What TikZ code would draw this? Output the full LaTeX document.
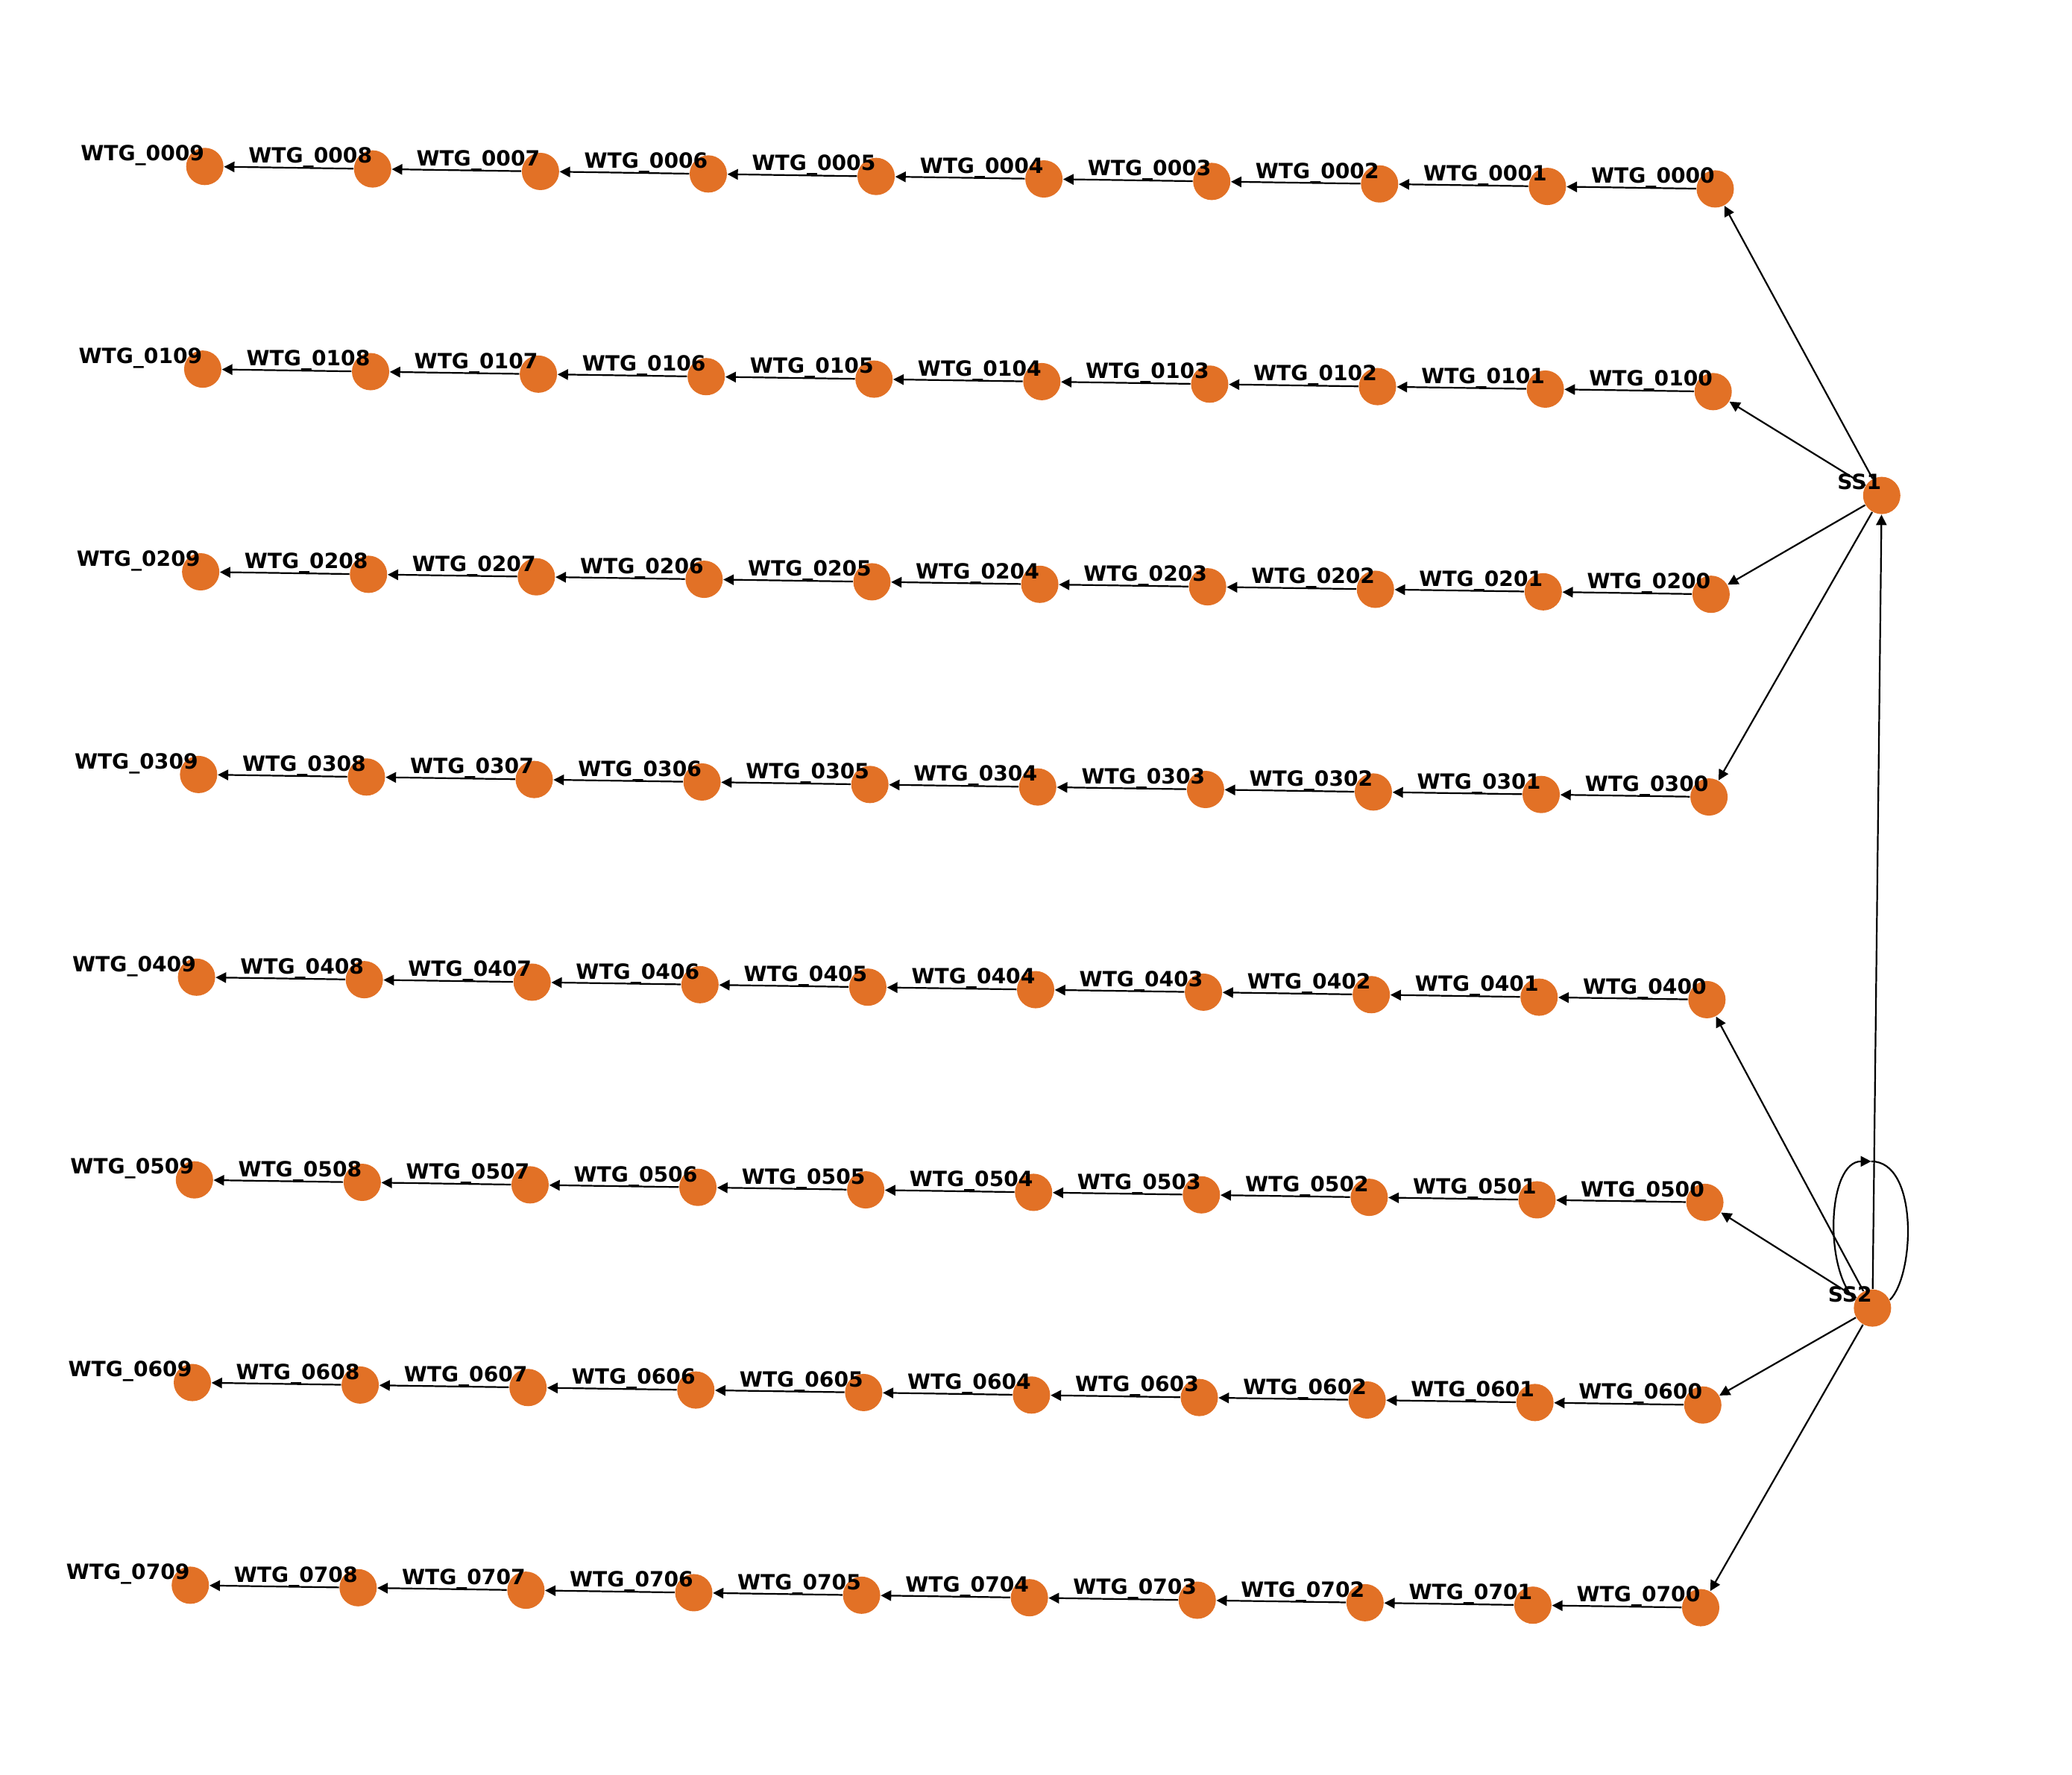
\documentclass[tikz,border=0pt]{standalone}
\usepackage{fontspec}
\newfontfamily\lblfont{DejaVu Sans}
\usetikzlibrary{arrows.meta}
\definecolor{nodeor}{RGB}{226,113,38}
\begin{document}
\begin{tikzpicture}[x=0.017723cm,y=-0.017723cm,
  wtg/.style={circle,fill=nodeor,draw=none,minimum size=0.5cm,inner sep=0pt},
  lbl/.style={anchor=base east,inner sep=0pt,font=\lblfont\bfseries\fontsize{8}{9.6}\selectfont,yshift=0.077cm},
  edge/.style={draw=black,line width=0.63pt,-{Triangle[length=0.14cm,width=0.14cm]}}]
\useasboundingbox (0,0) rectangle (1568,1343);
\foreach \r in {0,...,7}{
  \foreach \c in {0,...,9}{
    \node[wtg] (w\r\c) at ({1298-1.57*\r-127*\c},{143+153.4*\r-1.89*\c}) {};
  }
}
\node[wtg] (SS1) at (1424,375) {};
\node[wtg] (SS2) at (1417,990) {};
\foreach \r in {0,...,7}{
  \foreach \c [evaluate=\c as \n using int(\c+1)] in {0,...,8}{
    \draw[edge] (w\r\c) -- (w\r\n);
  }
}
\foreach \r in {0,...,3} \draw[edge] (SS1) -- (w\r0);
\foreach \r in {4,...,7} \draw[edge] (SS2) -- (w\r0);
\draw[edge] (SS2) -- (SS1);
\coordinate (looptop) at (1416,879);
\draw[edge] (SS2.155) .. controls (1380,960) and (1383,879) .. (looptop);
\draw[line width=0.63pt] (looptop) .. controls (1452,879) and (1449,965) .. (SS2.25);
\foreach \r in {0,...,7}{
  \foreach \c in {0,...,9}{
    \node[lbl] (l\r\c) at (w\r\c.center) {WTG\_0\r0\c};
  }
}
\node[lbl] (lSS1) at (SS1.center) {SS1};
\node[lbl] (lSS2) at (SS2.center) {SS2};
\end{tikzpicture}
\end{document}
